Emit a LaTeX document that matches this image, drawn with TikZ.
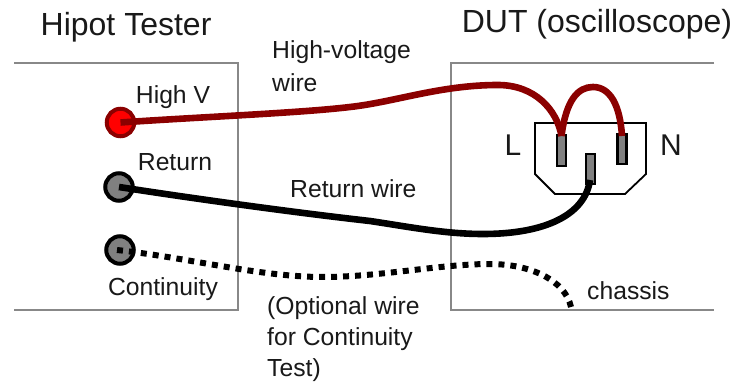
\documentclass[tikz,border=0pt]{standalone}
\usepackage{fontspec}
\setmainfont{Liberation Sans}
\definecolor{wirered}{RGB}{139,0,0}
\definecolor{framegray}{RGB}{136,136,136}
\definecolor{pingray}{RGB}{128,128,128}
\tikzset{
 frameline/.style={draw=framegray,line width=1.6pt},
 title/.style={inner sep=0pt,font=\fontsize{32}{34}\selectfont,text=black!90},
 lab/.style={inner sep=0pt,font=\fontsize{24.7}{28}\selectfont,text=black!90,align=left},
 term/.style={circle,minimum size=27.5pt,inner sep=0pt,line width=4pt,draw=black,fill=pingray},
 hterm/.style={term,draw=wirered,fill=red},
 pin/.style={draw=black,fill=pingray,line width=2.4pt,inner sep=0pt,minimum width=9pt},
 redwire/.style={draw=wirered,line width=6.6pt},
 blackwire/.style={draw=black,line width=6.6pt},
 dotwire/.style={draw=black,line width=6pt,dash pattern=on 6pt off 6pt},
}
\begin{document}
\begin{tikzpicture}[x=1pt,y=-1pt]
\useasboundingbox (0,0) rectangle (734,382);
\coordinate (a1) at (14,63); \coordinate (a2) at (238,63); \coordinate (a3) at (238,310); \coordinate (a4) at (14,310);
\coordinate (b1) at (714,63); \coordinate (b2) at (451,63); \coordinate (b3) at (451,310); \coordinate (b4) at (714,310);
\draw[frameline] (a1) -- (a2) -- (a3) -- (a4);
\draw[frameline] (b1) -- (b2) -- (b3) -- (b4);
\node[title,anchor=base west] (t1) at (40.5,36) {Hipot Tester};
\node[title,anchor=base] (t2) at (597,33) {DUT (oscilloscope)};
\node[term,hterm] (hv) at (120.5,122.5) {};
\node[term] (ret) at (119,187) {};
\node[term] (cont) at (120,250) {};
\node[lab,anchor=base] (l1) at (173,104) {High V};
\node[lab,anchor=base] (l2) at (175,171) {Return};
\node[lab,anchor=base] (l3) at (163,296) {Continuity};
\node[lab,anchor=base west] (l4) at (272,59) {High-voltage};
\node[lab,anchor=base west] (l4b) at (272,92) {wire};
\node[lab,anchor=base west] (l5) at (290,198) {Return wire};
\node[lab,anchor=base west] (l6) at (267,314) {(Optional wire};
\node[lab,anchor=base west] (l6b) at (267,345) {for Continuity};
\node[lab,anchor=base west] (l6c) at (267,376) {Test)};
\node[lab,anchor=base west] (l7) at (587,299) {chassis};
\node[anchor=base,inner sep=0pt,font=\fontsize{30}{32}\selectfont,text=black!90] (L) at (513,156) {L};
\node[anchor=base,inner sep=0pt,font=\fontsize{30}{32}\selectfont,text=black!90] (N) at (671,156) {N};
\draw[black,line width=1.8pt] (535,123) -- (646,123) -- (646,174) -- (625,194) -- (555,194) -- (535,174) -- cycle;
\node[pin,minimum height=31pt] (pl) at (561.5,150.5) {};
\node[pin,minimum height=30pt] (pn) at (622,149) {};
\node[pin,minimum height=30pt] (pg) at (590.5,169) {};
\coordinate (pls) at (561.5,136);
\coordinate (pns) at (622,136);
\coordinate (pgs) at (590,180);
\coordinate (chs) at (571,307);
\draw[redwire] (hv.center) .. controls (200,117) and (300,113) .. (350,107) .. controls (395,102) and (440,85) .. (498,85) .. controls (535,85) and (557,110) .. (pls);
\draw[redwire] (pls) .. controls (566,100) and (578,87) .. (593,87) .. controls (610,87) and (620,105) .. (pns);
\draw[blackwire] (ret.center) .. controls (190,198) and (290,212) .. (370,221) .. controls (410,227) and (445,234) .. (483,234) .. controls (545,234) and (585,215) .. (pgs);
\draw[dotwire] (cont.center) ++(-3,0) .. controls (190,258) and (260,277) .. (323,277) .. controls (380,277) and (440,264) .. (490,264) .. controls (530,264) and (565,280) .. (chs);
\end{tikzpicture}
\end{document}
